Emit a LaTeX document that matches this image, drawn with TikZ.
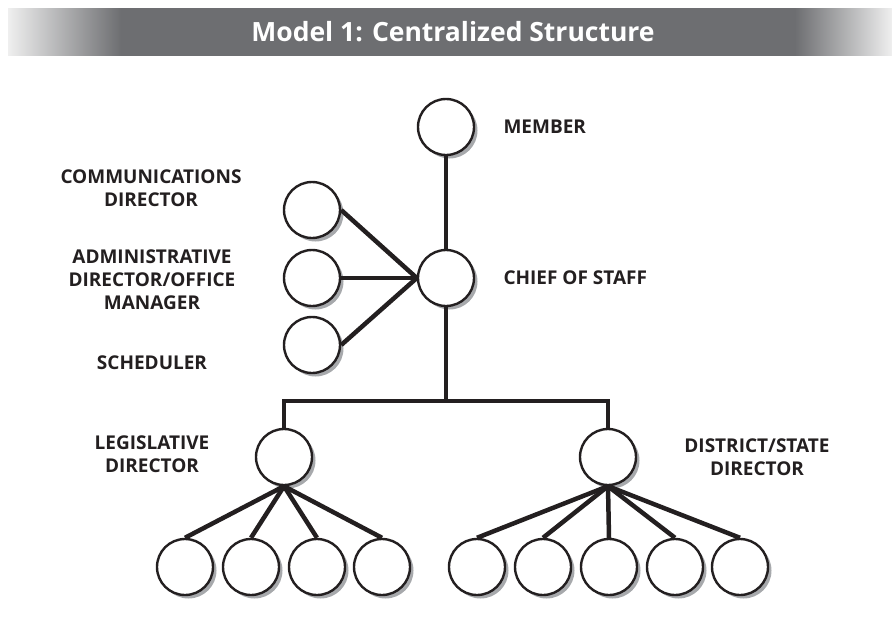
\documentclass[tikz,border=0pt]{standalone}
\usepackage{fontspec}
\setmainfont{Open Sans}
\usetikzlibrary{shadows,positioning}

\definecolor{ink}{HTML}{231F20}
\definecolor{barGray}{HTML}{6D6E71}
\definecolor{shade}{HTML}{A7A9AC}
\definecolor{fade}{HTML}{EFEFEF}
\pgfdeclarehorizontalshading{headerfade}{100bp}{color(0bp)=(fade); color(25bp)=(fade);
  color(31.4bp)=(barGray); color(69.5bp)=(barGray); color(75bp)=(fade); color(100bp)=(fade)}

\begin{document}
\begin{tikzpicture}[x=1pt,y=-1pt,
  person/.style={circle,draw=ink,line width=2.4pt,fill=white,minimum size=56pt,inner sep=0pt,
    drop shadow={shadow xshift=3.5pt,shadow yshift=-3.5pt,fill=shade,opacity=1}},
  link/.style={draw=ink,line width=4.5pt},
  role/.style={text=ink,font=\bfseries\fontsize{19}{23}\selectfont,align=center}]
  \useasboundingbox (0,0) rectangle (892,643);
  %
  % Header bar
  \shade[shading=headerfade] (8,8) rectangle (892,55);
  \node[text=white,font=\bfseries\fontsize{26.5}{30}\selectfont] (title) at (453,32)
    {Model 1: Centralized Structure};
  %
  % People
  \node[person] (member) at (446,127) {};
  \node[person] (chief) at (446,278) {};
  \node[person] (comm) at (312,210) {};
  \node[person] (admin) at (312,278) {};
  \node[person] (sched) at (312,345) {};
  \node[person] (legis) at (284,457) {};
  \node[person] (dist) at (608,457) {};
  \foreach \x [count=\i] in {185,251,317,382}
    \node[person] (leg\i) at (\x,567) {};
  \foreach \x [count=\i] in {477,543,609,675,740}
    \node[person] (dst\i) at (\x,567) {};
  %
  % Roles
  \node[role,anchor=west] (memberlabel) at (500,127) {MEMBER};
  \node[role,anchor=west] (chieflabel) at (500,278) {CHIEF OF STAFF};
  \node[role] (commlabel) at (151,188) {COMMUNICATIONS\\DIRECTOR};
  \node[role] (adminlabel) at (152,280) {ADMINISTRATIVE\\DIRECTOR/OFFICE\\MANAGER};
  \node[role] (schedlabel) at (152,363) {SCHEDULER};
  \node[role] (legislabel) at (152,454) {LEGISLATIVE\\DIRECTOR};
  \node[role] (distlabel) at (757,457) {DISTRICT/STATE\\DIRECTOR};
  %
  % Links
  \coordinate (split) at (446,401);
  \draw[link] (member) -- (chief);
  \foreach \n in {comm,admin,sched}
    \draw[link] (\n.east) -- (chief.west);
  \draw[link] (chief) -- (split);
  \draw[link] (legis.north) |- (split) -| (dist.north);
  \foreach \i in {1,...,4}
    \draw[link] (legis.south) -- (leg\i.north);
  \foreach \i in {1,...,5}
    \draw[link] (dist.south) -- (dst\i.north);
  %
\end{tikzpicture}
\end{document}
